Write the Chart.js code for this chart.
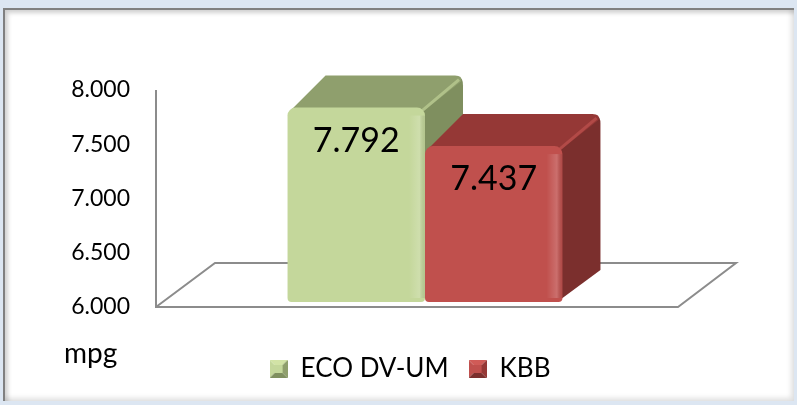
<!DOCTYPE html>
<html>
<head>
<meta charset="utf-8">
<script src="https://cdn.jsdelivr.net/npm/chart.js@4/dist/chart.umd.min.js"></script>
<style>
    body { margin: 0; background: #dce6f2; width: 797px; height: 405px; overflow: hidden; position: relative; }
    .frame {
        position: absolute; left: 3px; top: 8px; width: 789px; height: 391px;
        background: #fff;
        border-left: 2px solid #808080; border-top: 2px solid #808080;
        box-shadow: inset 3px 3px 4px rgba(0,0,0,0.18), inset -3px -3px 5px rgba(0,0,0,0.12);
    }
    #chart { position: absolute; left: 0; top: 0; }
</style>
</head>
<body>
<div class="frame"></div>
<canvas id="chart" width="797" height="405"></canvas>
<script>
// Values
const categories = [''];
const seriesNames = ['ECO DV-UM', 'KBB'];
const ecoValues = [7.792];
const kbbValues = [7.437];
const yTicks = [6.0, 6.5, 7.0, 7.5, 8.0];

const FONT = 'Lato, "Open Sans", sans-serif';

// face colours for the 3D look: front, top, side
const faces = [
    { front: '#c4d79b', top: '#8f9f6d', side: '#7f8f5f', light: '#d2e3a6' },
    { front: '#c0504d', top: '#953836', side: '#7b2f2d', light: '#d05b57' }
];
const DEPTH_X = 38, DEPTH_Y = -32;

// little bevelled square used as the legend marker
function legendIcon(f) {
    const c = document.createElement('canvas');
    c.width = 18; c.height = 18;
    const g = c.getContext('2d');
    const tri = (pts, col) => {
        g.fillStyle = col;
        g.beginPath();
        g.moveTo(pts[0], pts[1]);
        g.lineTo(pts[2], pts[3]);
        g.lineTo(pts[4], pts[5]);
        g.closePath();
        g.fill();
    };
    tri([0, 0, 18, 0, 9, 9], f.light);
    tri([0, 0, 0, 18, 9, 9], f.front);
    tri([18, 0, 18, 18, 9, 9], f.top);
    tri([0, 18, 18, 18, 9, 9], f.side);
    g.fillStyle = f.front;
    g.fillRect(5, 5, 8, 8);
    return c;
}

// floor, axis line and side/top faces of the bars
const box3d = {
    id: 'box3d',
    afterLayout(chart) {
        // the legend sits a little left of the plot centre in the reference
        chart.legend.left -= 15;
        chart.legend.right -= 15;
    },
    beforeDatasetsDraw(chart) {
        const { ctx, chartArea } = chart;
        const yFront = chartArea.bottom + 5;
        const left = chartArea.left, right = chartArea.right - 16;
        ctx.save();
        ctx.strokeStyle = '#8c8c8c';
        ctx.lineWidth = 2;
        ctx.beginPath();
        ctx.moveTo(left, chartArea.top + 5);
        ctx.lineTo(left, yFront);
        ctx.lineTo(right, yFront);
        ctx.lineTo(right + 58, yFront - 44);
        ctx.lineTo(left + 59, yFront - 44);
        ctx.lineTo(left, yFront);
        ctx.stroke();

        chart.data.datasets.forEach((ds, i) => {
            const f = faces[i];
            chart.getDatasetMeta(i).data.forEach(bar => {
                const x0 = bar.x - bar.width / 2, x1 = bar.x + bar.width / 2;
                const yt = bar.y, yb = Math.min(bar.base, chartArea.bottom);
                // side face
                ctx.fillStyle = f.side;
                ctx.beginPath();
                ctx.moveTo(x1 - 4, yt + 4);
                ctx.lineTo(x1 + DEPTH_X - 4, yt + DEPTH_Y + 2);
                ctx.quadraticCurveTo(x1 + DEPTH_X, yt + DEPTH_Y + 2, x1 + DEPTH_X, yt + DEPTH_Y + 10);
                ctx.lineTo(x1 + DEPTH_X, yb + DEPTH_Y);
                ctx.lineTo(x1 - 4, yb - 1);
                ctx.closePath();
                ctx.fill();
                // top face
                ctx.fillStyle = f.top;
                ctx.beginPath();
                ctx.moveTo(x0 + 4, yt + 2);
                ctx.lineTo(x0 + DEPTH_X, yt + DEPTH_Y);
                ctx.lineTo(x1 + DEPTH_X - 8, yt + DEPTH_Y);
                ctx.quadraticCurveTo(x1 + DEPTH_X, yt + DEPTH_Y, x1 + DEPTH_X - 2, yt + DEPTH_Y + 6);
                ctx.lineTo(x1 - 2, yt + 4);
                ctx.closePath();
                ctx.fill();
                // light edge between top and side
                ctx.strokeStyle = f.light;
                ctx.globalAlpha = 0.5;
                ctx.lineWidth = 3;
                ctx.beginPath();
                ctx.moveTo(x1 - 4, yt + 4);
                ctx.lineTo(x1 + DEPTH_X - 4, yt + DEPTH_Y + 4);
                ctx.stroke();
                ctx.globalAlpha = 1;
            });
        });
        ctx.restore();
    },
    afterDatasetsDraw(chart) {
        const { ctx, chartArea } = chart;
        ctx.save();
        chart.data.datasets.forEach((ds, i) => {
            chart.getDatasetMeta(i).data.forEach((bar, j) => {
                const yb = Math.min(bar.base, chartArea.bottom);
                // soft highlight near the right edge of the front face
                const x1 = bar.x + bar.width / 2;
                const g = ctx.createLinearGradient(x1 - 16, 0, x1, 0);
                g.addColorStop(0, 'rgba(255,255,255,0)');
                g.addColorStop(0.65, 'rgba(255,255,255,0.18)');
                g.addColorStop(1, 'rgba(0,0,0,0.08)');
                ctx.fillStyle = g;
                ctx.fillRect(x1 - 16, bar.y + 8, 16, yb - bar.y - 12);
                // value label
                ctx.fillStyle = '#000';
                ctx.font = '34px ' + FONT;
                ctx.textAlign = 'center';
                ctx.textBaseline = 'middle';
                ctx.fillText(ds.data[j].toFixed(3), bar.x, bar.y + 33);
            });
        });
        // unit label under the axis
        ctx.font = '28px ' + FONT;
        ctx.textAlign = 'left';
        ctx.textBaseline = 'alphabetic';
        ctx.fillText('mpg', 64, 363);
        ctx.restore();
    }
};

new Chart(document.getElementById('chart').getContext('2d'), {
    type: 'bar',
    data: {
        labels: categories,
        datasets: [
            { label: seriesNames[0], data: ecoValues, backgroundColor: faces[0].front, pointStyle: legendIcon(faces[0]) },
            { label: seriesNames[1], data: kbbValues, backgroundColor: faces[1].front, pointStyle: legendIcon(faces[1]) }
        ]
    },
    options: {
        responsive: false,
        animation: false,
        categoryPercentage: 0.511,
        barPercentage: 1,
        base: yTicks[0],
        borderSkipped: false,
        borderRadius: { topLeft: 8, topRight: 8, bottomLeft: 4, bottomRight: 4 },
        layout: { padding: { left: 0, right: 103, top: 85, bottom: 13 } },
        scales: {
            x: {
                grid: { display: false },
                border: { display: false },
                ticks: { display: false },
                afterFit: s => { s.height = 34; }
            },
            y: {
                min: yTicks[0],
                max: yTicks[yTicks.length - 1],
                grid: { display: false, drawTicks: false },
                border: { display: false },
                afterBuildTicks: s => { s.ticks = yTicks.map(v => ({ value: v })); },
                afterFit: s => { s.width = 156; },
                ticks: {
                    padding: 26,
                    labelOffset: 5,
                    color: '#000',
                    font: { family: FONT, size: 23 },
                    callback: v => Number(v).toFixed(3)
                }
            }
        },
        plugins: {
            legend: {
                position: 'bottom',
                fullSize: false,
                labels: {
                    color: '#000',
                    usePointStyle: true,
                    boxWidth: 18,
                    boxHeight: 18,
                    padding: 20,
                    font: { family: FONT, size: 26 }
                }
            },
            tooltip: { enabled: false }
        }
    },
    plugins: [box3d]
});
</script>
</body>
</html>
